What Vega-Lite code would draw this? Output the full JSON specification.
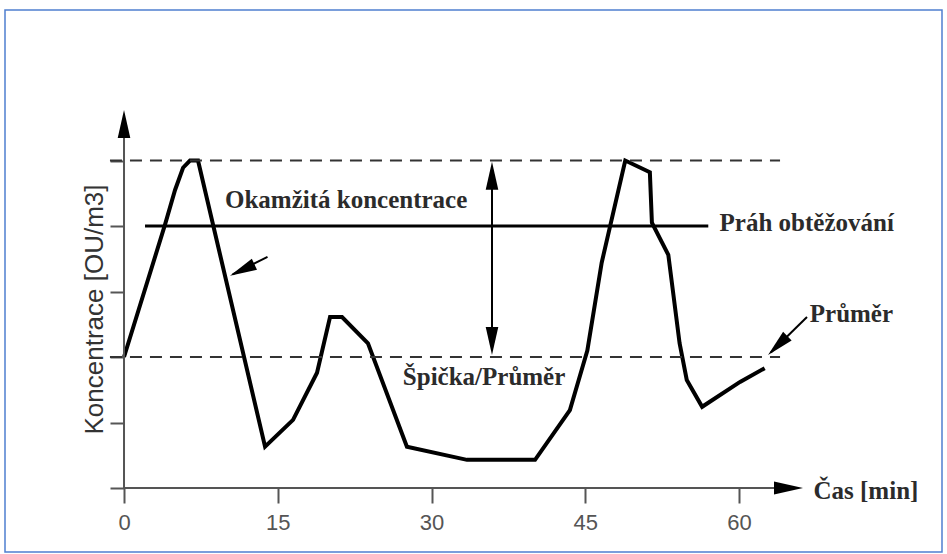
{
  "$schema": "https://vega.github.io/schema/vega-lite/v6.json",
  "width": 937,
  "height": 542,
  "autosize": {"type": "none"},
  "padding": {"left": 5, "top": 10, "right": 5, "bottom": 2},
  "background": "white",
  "config": {"view": {"stroke": "#4f7fcf", "strokeWidth": 1.5}},
  "layer": [
    {
      "data": {"values": [
        {"t": 0, "v": 2.0}, {"t": 4.0, "v": 4.02}, {"t": 4.98, "v": 4.55}, {"t": 5.76, "v": 4.89},
        {"t": 6.44, "v": 5.0}, {"t": 7.22, "v": 5.0}, {"t": 13.76, "v": 0.63}, {"t": 16.49, "v": 1.04},
        {"t": 18.83, "v": 1.76}, {"t": 20.1, "v": 2.61}, {"t": 21.27, "v": 2.61}, {"t": 23.8, "v": 2.21},
        {"t": 27.6, "v": 0.63}, {"t": 33.46, "v": 0.43}, {"t": 40.1, "v": 0.43}, {"t": 43.5, "v": 1.19},
        {"t": 45.2, "v": 2.1}, {"t": 46.6, "v": 3.44}, {"t": 48.9, "v": 5.0}, {"t": 51.3, "v": 4.82},
        {"t": 51.5, "v": 4.05}, {"t": 53.1, "v": 3.56}, {"t": 54.2, "v": 2.21}, {"t": 54.9, "v": 1.65},
        {"t": 56.4, "v": 1.24}, {"t": 60.1, "v": 1.62}, {"t": 62.5, "v": 1.83}
      ]},
      "mark": {"type": "line", "color": "#000", "strokeWidth": 4, "strokeJoin": "miter"},
      "encoding": {
        "x": {
          "field": "t", "type": "quantitative", "title": "Čas [min]",
          "scale": {"domain": [-11.61, 79.8], "nice": false, "zero": false},
          "axis": {
            "values": [0, 15, 30, 45, 60], "domain": false, "grid": false, "offset": -64,
            "tickSize": 15, "tickWidth": 2, "tickColor": "#555",
            "labelFont": "Liberation Sans", "labelFontSize": 22, "labelColor": "#555",
            "labelPadding": 9, "labelBaseline": "top",
            "title": "Čas [min]", "titleX": 808, "titleY": 2, "titleAlign": "left",
            "titleBaseline": "middle", "titleAngle": 0, "titleFont": "Liberation Serif",
            "titleFontSize": 25, "titleFontWeight": "bold", "titleColor": "#2b2b2b"
          }
        },
        "y": {
          "field": "v", "type": "quantitative", "title": "Koncentrace [OU/m3]",
          "scale": {"domain": [-0.977, 7.298], "nice": false, "zero": false},
          "axis": {
            "values": [0, 1, 2, 3, 4, 5], "domain": false, "grid": false, "offset": -119,
            "tickSize": 14, "tickWidth": 2, "tickColor": "#555", "labels": false,
            "title": "Koncentrace [OU/m3]", "titleX": -22, "titleY": 299, "titleAngle": -90,
            "titleAlign": "center", "titleBaseline": "alphabetic",
            "titleFont": "Liberation Sans", "titleFontSize": 26, "titleFontWeight": "normal",
            "titleColor": "#333"
          }
        }
      }
    },
    {
      "data": {"values": [
        {"t": -1.37, "t2": 64.0, "v": 5},
        {"t": -1.37, "t2": 64.0, "v": 2}
      ]},
      "mark": {"type": "rule", "color": "#333", "strokeWidth": 2, "strokeDash": [12, 8]},
      "encoding": {
        "x": {"field": "t", "type": "quantitative", "title": "Čas [min]"},
        "x2": {"field": "t2"},
        "y": {"field": "v", "type": "quantitative", "title": "Koncentrace [OU/m3]"}
      }
    },
    {
      "data": {"values": [{"t": 2.05, "t2": 57.0, "v": 4}]},
      "mark": {"type": "rule", "color": "#000", "strokeWidth": 3},
      "encoding": {
        "x": {"field": "t", "type": "quantitative", "title": "Čas [min]"},
        "x2": {"field": "t2"},
        "y": {"field": "v", "type": "quantitative", "title": "Koncentrace [OU/m3]"}
      }
    },
    {
      "data": {"values": [
        {"t": 0, "t2": 65.0, "v": 0, "v2": 0},
        {"t": 0, "t2": 0, "v": 0, "v2": 5.5}
      ]},
      "mark": {"type": "rule", "color": "#555", "strokeWidth": 2},
      "encoding": {
        "x": {"field": "t", "type": "quantitative", "title": "Čas [min]"},
        "x2": {"field": "t2"},
        "y": {"field": "v", "type": "quantitative", "title": "Koncentrace [OU/m3]"},
        "y2": {"field": "v2"}
      }
    },
    {
      "data": {"values": [
        {"t": 35.9, "t2": 35.9, "v": 2.1, "v2": 4.9},
        {"t": 14.0, "t2": 10.6, "v": 3.53, "v2": 3.26},
        {"t": 66.63, "t2": 63.1, "v": 2.61, "v2": 2.07}
      ]},
      "mark": {"type": "rule", "color": "#000", "strokeWidth": 2},
      "encoding": {
        "x": {"field": "t", "type": "quantitative", "title": "Čas [min]"},
        "x2": {"field": "t2"},
        "y": {"field": "v", "type": "quantitative", "title": "Koncentrace [OU/m3]"},
        "y2": {"field": "v2"}
      }
    },
    {
      "data": {"values": [{"t": 0, "v": 5.77}, {"t": 35.9, "v": 4.98}]},
      "mark": {"type": "point", "shape": "M0,0L-0.45,2L0.45,2Z", "size": 784, "angle": 0, "filled": true, "color": "#000", "opacity": 1, "strokeWidth": 0},
      "encoding": {
        "x": {"field": "t", "type": "quantitative", "title": "Čas [min]"},
        "y": {"field": "v", "type": "quantitative", "title": "Koncentrace [OU/m3]"}
      }
    },
    {
      "data": {"values": [{"t": 35.9, "v": 2.03}]},
      "mark": {"type": "point", "shape": "M0,0L-0.45,2L0.45,2Z", "size": 784, "angle": 180, "filled": true, "color": "#000", "opacity": 1, "strokeWidth": 0},
      "encoding": {
        "x": {"field": "t", "type": "quantitative", "title": "Čas [min]"},
        "y": {"field": "v", "type": "quantitative", "title": "Koncentrace [OU/m3]"}
      }
    },
    {
      "data": {"values": [{"t": 66.24, "v": 0}]},
      "mark": {"type": "point", "shape": "M0,0L-0.45,2L0.45,2Z", "size": 841, "angle": 90, "filled": true, "color": "#000", "opacity": 1, "strokeWidth": 0},
      "encoding": {
        "x": {"field": "t", "type": "quantitative", "title": "Čas [min]"},
        "y": {"field": "v", "type": "quantitative", "title": "Koncentrace [OU/m3]"}
      }
    },
    {
      "data": {"values": [{"t": 10.34, "v": 3.24}]},
      "mark": {"type": "point", "shape": "M0,0L-0.45,2L0.45,2Z", "size": 729, "angle": 244.7, "filled": true, "color": "#000", "opacity": 1, "strokeWidth": 0},
      "encoding": {
        "x": {"field": "t", "type": "quantitative", "title": "Čas [min]"},
        "y": {"field": "v", "type": "quantitative", "title": "Koncentrace [OU/m3]"}
      }
    },
    {
      "data": {"values": [{"t": 62.83, "v": 2.03}]},
      "mark": {"type": "point", "shape": "M0,0L-0.45,2L0.45,2Z", "size": 729, "angle": 225.7, "filled": true, "color": "#000", "opacity": 1, "strokeWidth": 0},
      "encoding": {
        "x": {"field": "t", "type": "quantitative", "title": "Čas [min]"},
        "y": {"field": "v", "type": "quantitative", "title": "Koncentrace [OU/m3]"}
      }
    },
    {
      "data": {"values": [
        {"label": "Okamžitá koncentrace", "t": 9.85, "v": 4.27},
        {"label": "Práh obtěžování", "t": 58.1, "v": 3.92},
        {"label": "Špička/Průměr", "t": 27.2, "v": 1.57},
        {"label": "Průměr", "t": 66.9, "v": 2.53}
      ]},
      "mark": {"type": "text", "align": "left", "baseline": "alphabetic", "font": "Liberation Serif", "fontSize": 25, "fontWeight": "bold", "color": "#2b2b2b"},
      "encoding": {
        "x": {"field": "t", "type": "quantitative", "title": "Čas [min]"},
        "y": {"field": "v", "type": "quantitative", "title": "Koncentrace [OU/m3]"},
        "text": {"field": "label"}
      }
    }
  ]
}
